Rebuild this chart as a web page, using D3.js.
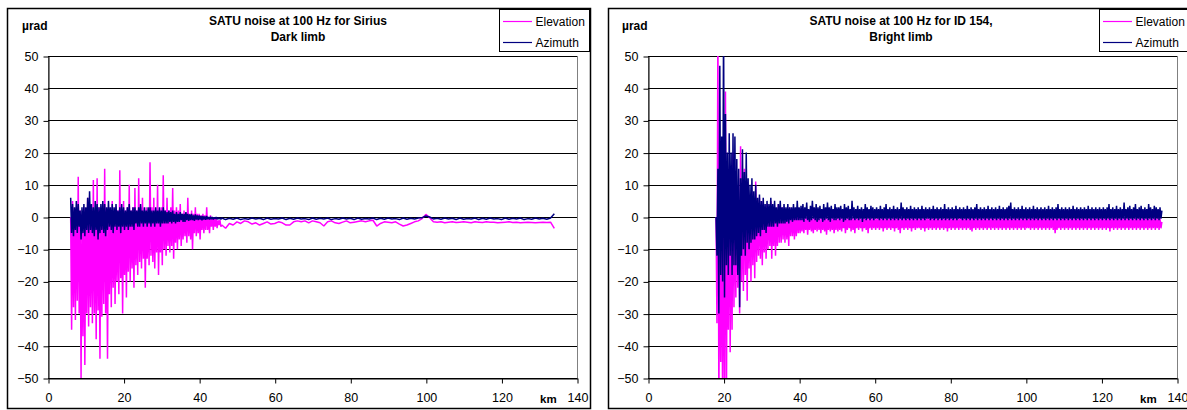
<!DOCTYPE html>
<html>
<head>
<meta charset="utf-8">
<script src="https://cdn.jsdelivr.net/npm/d3@7"></script>
<style>
  body { margin: 0; background: #fff; }
  svg text { font-family: Arial, "Liberation Sans", sans-serif; }
</style>
</head>
<body>
<svg id="chart" width="1187" height="410"></svg>
<script>
// axis ticks
const kmTicks = [0, 20, 40, 60, 80, 100, 120, 140];
const uradTicks = [-50, -40, -30, -20, -10, 0, 10, 20, 30, 40, 50];
const seriesNames = ['Elevation', 'Azimuth'];

// Sirius, dark limb: every 0.25 km from 6 km, then every 1 km from 46 km
const siriusNoisyStart = 6, siriusNoisyStep = 0.25;
const siriusQuietStart = 46, siriusQuietStep = 1;

const siriusElevNoisy = [
  0, -35, 5, -28, 2, -32, 3, -26, 12.5, -30, 2, -50, 1, -37, 3, -46, 2, -30, 6, -34,
  2, -28, 3, -33, 11.5, -30, 2, -38, 12, -29, 3, -44, 2, -31, 4, -27, 15, -30, 2, -44,
  3, -24, 2, -28, 5, -22, 2, -27, 3, -20, 2, -24, 14.5, -19, 2, -30, 5, -18, 2, -25,
  3, -17, 10, -20, 2, -16, 3, -22, 9, -15, 2, -18, 12, -14, 3, -16, 6, -13, 2, -22,
  3, -13, 2, -15, 17, -12, 3, -14, 6, -16, 2, -11, 10, -18, 2, -11, 3, -15, 13, -10,
  2, -12, 6, -9, 2, -11, 3, -9, 9, -13, 2, -8, 3, -10, 2, -7, 4, -9, 1, -7,
  2, -6, 1, -8, 6, -6, 1, -7, 2, -10, 1, -5, 3, -6, 1, -5, 1, -7, 0.5, -4,
  1, -5, 0.5, -4, 3, -4, 0, -5, 0.5, -3, 0, -4, 0, -3, -0.5, -3.5, -1, -2.5, -1, -3
];
const siriusElevQuiet = [
  -2.5, -3.5, -2, -2.5, -1.5, -2, -1.2, -1.5, -2.2, -1.8,
  -2.5, -2, -1.5, -2.2, -2, -1.5, -1.8, -2.5, -2.5, -1.5,
  -1.2, -1.5, -1.2, -1.8, -1.2, -1.5, -1.8, -2.8, -1.5, -1.2,
  -1.8, -2, -1.6, -1.2, -1.8, -1.6, -1.4, -1.2, -1.5, -1.2,
  -1.0, -2.8, -2, -1.5, -1.6, -1.8, -1.5, -2.2, -2.8, -2.5,
  -2, -1.5, -1.2, -0.5, 0.8, -0.2, -1.5, -1.6, -1.5, -1.8,
  -1.6, -1.5, -1.7, -1.6, -1.5, -1.6, -1.8, -1.5, -1.6, -1.7,
  -1.5, -1.6, -1.6, -1.8, -1.7, -1.6, -1.5, -1.7, -1.6, -1.8,
  -1.7, -1.6, -1.7, -1.8, -1.7, -1.6, -1.7, -1.6, -3.5
];
const siriusAzNoisy = [
  6, -5, 4, -6, 3, -4, 5, -5, 4, -3, 2, -7, 3, -5, 4, -6, 3, -4, 6, -5,
  8, -4, 4, -5, 3, -6, 5, -4, 4, -7, 3, -5, 4, -4, 5, -5, 4, -6, 3, -4,
  5, -3, 3, -4, 4, -5, 3, -3, 4, -4, 2, -3, 3, -5, 4, -3, 3, -4, 2, -3,
  3, -4, 4, -3, 2, -3, 3, -4, 3, -2, 2, -3, 3, -3, 4, -2, 2, -3, 3, -2,
  2, -3, 3, -2, 3, -3, 2, -2, 2, -3, 3, -2, 2, -2, 3, -3, 2, -2, 3, -2,
  2, -2, 1.5, -2, 2, -1.5, 1.5, -2, 2, -1.5, 1, -2, 1.5, -1.5, 1, -1.5, 1.5, -1, 1, -1.5,
  1, -1.5, 1.5, -1, 1, -1.2, 0.8, -1, 1, -1, 0.5, -1.2, 0.8, -0.8, 0.5, -1, 0.5, -0.8, 0.3, -1,
  0.3, -0.8, 0.2, -0.9, 0.3, -0.7, 0, -0.8, 0.1, -0.7, 0, -0.8, -0.1, -0.6, 0, -0.7, -0.2, -0.6, -0.3, -0.7
];
const siriusAzQuiet = [
  -0.3, -0.8, -0.4, -0.7, -0.3, -0.8, -0.5, -0.7, -0.3, -0.6,
  -0.4, -0.8, -0.3, -0.7, -0.5, -0.6, -0.3, -0.8, -0.4, -0.7,
  -0.3, -0.6, -0.5, -0.8, -0.3, -0.7, -0.4, -0.6, -0.3, -0.8,
  -0.5, -0.7, -0.3, -0.6, -0.4, -0.8, -0.3, -0.7, -0.5, -0.6,
  -0.3, -0.8, -0.4, -0.7, -0.3, -0.6, -0.5, -0.8, -0.3, -0.7,
  -0.4, -0.6, -0.3, -0.2, 0.3, 0, -0.6, -0.4, -0.7, -0.3,
  -0.6, -0.4, -0.8, -0.3, -0.7, -0.5, -0.6, -0.3, -0.8, -0.4,
  -0.7, -0.3, -0.6, -0.5, -0.8, -0.3, -0.7, -0.4, -0.6, -0.3,
  -0.8, -0.5, -0.7, -0.3, -0.6, -0.4, -0.7, -0.3, 1
];

// ID 154, bright limb: every 0.25 km from 18 km
const id154NoisyStart = 18, id154QuietStart = 40.5, id154Step = 0.25;

const id154ElevNoisy = [
  0, -33, 60, -60, 5, -45, 10, -60, 3, -50, 39, -60, 8, -35, 15, -42, 5, -35, 20, -28,
  6, -25, 10, -22, 4, -30, 22, -20, 6, -23, 15, -18, 5, -26, 10, -16, 4, -20, 8, -15,
  5, -19, 11, -14, 3, -12, 6, -13, 4, -15, 5, -11, 3, -13, 4, -10, 3, -9, 5, -13,
  2, -9, 3, -12, 2, -9, 4, -8, 2, -8, 3, -7, 2, -8, 2, -7, 1.5, -9, 3, -6,
  1, -6, 2, -7, 1, -6, 1.5, -5, 0.5, -5
];
const id154ElevQuiet = [
  -0.5, -4.5, 0, -5, -0.5, -4, 0, -5.5, -0.5, -4, 0, -4.5, -0.5, -5, 0, -4, -0.5, -4.5, 0, -4,
  -0.5, -5, 0, -4, -0.5, -4.5, 0, -5.5, -0.5, -4, 0, -4.5, -0.5, -4, 0, -5, -0.5, -4, 0, -4.5,
  -0.5, -4, 0, -4.5, -0.5, -3.5, 0, -5, -0.5, -4, 0, -3.5, -0.5, -4.5, 0, -4, -0.5, -5, 0, -3.5,
  -0.5, -4, 0, -3.5, -0.5, -4.5, 0, -3.5, -0.5, -4, 0, -5, -0.5, -3.5, 0, -4, -0.5, -3.5, 0, -4,
  -0.5, -3.5, 0, -4, -0.5, -3.5, 0, -4.5, -0.5, -3.5, 0, -4, -0.5, -3.5, 0, -4, -0.5, -3.5, 0, -4.5,
  -0.5, -3.5, 0, -4, -0.5, -5, 0, -3.5, -0.5, -4, 0, -3.5, -0.5, -4, 0, -3.5, -0.5, -4.5, 0, -3.5,
  -0.5, -4, 0, -3.5, -0.5, -3.5, 0, -4, -0.5, -3.5, 0, -4.5, -0.5, -3.5, 0, -4, -0.5, -3.5, 0, -4,
  -0.5, -3.5, 0, -4, -0.5, -3.5, 0, -4, -0.5, -3.5, 0, -4, -0.5, -3.5, 0, -4.5, -0.5, -3.5, 0, -4,
  -0.5, -3.5, 0, -4, -0.5, -3.5, 0, -4, -0.5, -3.5, 0, -4, -0.5, -3.5, 0, -4, -0.5, -3.5, 0, -4,
  -0.5, -4.5, 0, -3.5, -0.5, -4, 0, -3.5, -0.5, -4, 0, -3.5, -0.5, -4, 0, -3.5, -0.5, -4, 0, -3.5,
  -0.5, -4, 0, -3.5, -0.5, -4, 0, -3.5, -0.5, -4, 0, -3.5, -0.5, -4, 0, -3.5, -0.5, -4, 0, -3.5,
  -0.5, -4, 0, -3.5, -0.5, -4, 0, -3.5, -0.5, -4, 0, -3.5, -0.5, -4, 0, -3.5, -0.5, -4, 0, -3.5,
  -0.5, -3.5, 0, -4, -0.5, -3.5, 0, -4, -0.5, -3.5, 0, -4, -0.5, -3.5, 0, -4, -0.5, -3.5, 0, -4,
  -0.5, -3.5, 0, -4, -0.5, -3.5, 0, -4, -0.5, -5, 0, -4, -0.5, -3.5, 0, -4, -0.5, -3.5, 0, -4,
  -0.5, -3.5, 0, -4, -0.5, -3.5, 0, -4, -0.5, -3.5, 0, -4, -0.5, -3.5, 0, -4, -0.5, -3.5, 0, -4,
  -0.5, -3.5, 0, -4, -0.5, -3.5, 0, -4, -0.5, -3.5, 0, -4, -0.5, -3.5, 0, -4, -0.5, -3.5, 0, -4,
  -0.5, -3.5, 0, -4, -0.5, -3.5, 0, -4.5, -0.5, -3.5, 0, -4, -0.5, -3.5, 0, -4, -0.5, -3.5, 0, -4,
  -0.5, -3.5, 0, -4, -0.5, -3.5, 0, -4, -0.5, -3.5, 0, -4, -0.5, -3.5, 0, -4, -0.5, -3.5, 0, -4,
  -0.5, -3.5, 0, -4, -0.5, -3.5, 0, -4, -0.5, -3.5, 0, -4, -0.5, -3.5, 0, -4, -0.5, -3.5, 0, -4,
  -0.5, -3.5, -1.5
];
const id154AzNoisy = [
  0, -12, 15, -30, 47, -18, 25, -20, 60, -25, 32, -15, 20, -18, 26, -12, 20, -18, 26, -15,
  25, -15, 18, -18, 15, -28, 12, -12, 21, -10, 14, -12, 20, -8, 12, -10, 10, -8, 12, -7,
  8, -7, 10, -6, 6, -5, 7, -6, 5, -4, 6, -4, 4, -5, 5, -3, 4, -3, 6, -3,
  4, -3, 5, -2, 3, -3, 4, -2, 5, -2, 3, -2, 4, -2, 3, -1.5, 4, -2, 3, -1,
  3, -1.5, 4, -1, 3, -1, 5, -1, 3, -1
];
const id154AzQuiet = [
  3.5, -1, 4, -1.5, 3, -0.5, 4.5, -1, 2.5, -1.5, 3.5, -1, 5, -0.5, 3, -1, 4, -1.5, 3, -1,
  3.5, -0.5, 2.5, -1.5, 4, -1, 3, -0.5, 4.5, -1, 3, -1.5, 3.5, -0.5, 2.5, -1, 4, -1, 3, -0.5,
  3, -1, 3.5, -0.5, 2.5, -1.5, 4, -1, 3, -0.5, 3.5, -1, 2.5, -1, 5, -0.5, 3, -1, 2.5, -0.5,
  3.5, -1, 2.5, -0.5, 3, -1.5, 2.5, -0.5, 4, -1, 3, -0.5, 2.5, -1, 3.5, -0.5, 3, -1, 2.5, -0.5,
  3, -0.5, 2.5, -1, 3.5, -0.5, 2.5, -1, 3, -0.5, 4, -1, 2.5, -0.5, 3, -1, 2.5, -0.5, 3.5, -1,
  2.5, -0.5, 3, -1, 2.5, -0.5, 4.5, -1, 3, -0.5, 2.5, -1, 3, -0.5, 2.5, -1, 3.5, -0.5, 2.5, -1,
  3, -0.5, 2.5, -1, 3, -0.5, 2.5, -1, 3.5, -0.5, 2.5, -1, 3, -0.5, 2.5, -0.5, 3, -1, 2.5, -0.5,
  3.5, -1, 2.5, -0.5, 3, -1, 2.5, -0.5, 3, -1, 2.5, -0.5, 4, -1, 2.5, -0.5, 3, -1, 2.5, -0.5,
  3, -1, 2.5, -0.5, 3.5, -1, 2.5, -0.5, 3, -0.5, 2.5, -1, 3, -0.5, 2.5, -1, 3.5, -0.5, 2.5, -1,
  3, -0.5, 2.5, -1, 3, -0.5, 4, -1, 2.5, -0.5, 3, -1, 2.5, -0.5, 3, -1, 2.5, -0.5, 3.5, -1,
  2.5, -0.5, 3, -1, 2.5, -0.5, 3, -1, 2.5, -0.5, 3.5, -1, 2.5, -0.5, 3, -1, 2.5, -0.5, 3, -1,
  3.5, -0.5, 4.5, -1, 2.5, -0.5, 3, -1, 2.5, -0.5, 3, -1, 2.5, -0.5, 3.5, -1, 2.5, -0.5, 3, -1,
  2.5, -0.5, 3, -1, 2.5, -0.5, 3.5, -1, 2.5, -0.5, 3, -1, 2.5, -0.5, 3, -1, 2.5, -0.5, 3, -1,
  2.5, -0.5, 3.5, -1, 2.5, -0.5, 3, -1, 2.5, -0.5, 3, -1, 4, -0.5, 2.5, -1, 3, -0.5, 2.5, -1,
  3, -0.5, 2.5, -1, 3, -0.5, 2.5, -1, 3.5, -0.5, 2.5, -1, 3, -0.5, 2.5, -1, 3, -0.5, 2.5, -1,
  3, -0.5, 2.5, -1, 3.5, -0.5, 2.5, -1, 3, -0.5, 2.5, -1, 3, -0.5, 2.5, -1, 3, -0.5, 2.5, -1,
  3, -0.5, 2.5, -1, 3, -0.5, 4, -1, 2.5, -0.5, 3, -1, 2.5, -0.5, 3.5, -1, 2.5, -0.5, 3, -1,
  2.5, -0.5, 4.5, -1, 2.5, -0.5, 3, -1, 3.5, -0.5, 2.5, -1, 3, -0.5, 4, -1, 2.5, -0.5, 3, -1,
  3.5, -0.5, 2.5, -1, 3, -0.5, 2.5, -1, 4, -0.5, 3, -1, 2.5, -0.5, 3.5, -1, 3, -0.5, 2.5, -1,
  3, -0.5, 2
];

const colors = { Elevation: '#ff00ff', Azimuth: '#000080' };

// turn sampled segments into [km, value] pairs
function samples(segs) {
  const pts = [];
  segs.forEach(([start, step, vals]) => {
    vals.forEach((v, i) => pts.push([start + i * step, v]));
  });
  return pts;
}

const panels = [
  {
    id: 'sirius',
    frame: { x: 7.5, y: 8.5, w: 583, h: 400 },
    plot: { x: 48, y: 56, w: 529, h: 322 },
    title: ['SATU noise at 100 Hz for Sirius', 'Dark limb'],
    titleX: 298,
    legend: { x: 499.5, y: 9.5, w: 90, h: 42 },
    data: {
      Elevation: samples([[siriusNoisyStart, siriusNoisyStep, siriusElevNoisy], [siriusQuietStart, siriusQuietStep, siriusElevQuiet]]),
      Azimuth: samples([[siriusNoisyStart, siriusNoisyStep, siriusAzNoisy], [siriusQuietStart, siriusQuietStep, siriusAzQuiet]])
    }
  },
  {
    id: 'id154',
    frame: { x: 608.5, y: 8.5, w: 600, h: 400 },
    plot: { x: 648, y: 56, w: 529, h: 322 },
    title: ['SATU noise at 100 Hz for ID 154,', 'Bright limb'],
    titleX: 901,
    legend: { x: 1099.5, y: 9.5, w: 100, h: 42 },
    data: {
      Elevation: samples([[id154NoisyStart, id154Step, id154ElevNoisy], [id154QuietStart, id154Step, id154ElevQuiet]]),
      Azimuth: samples([[id154NoisyStart, id154Step, id154AzNoisy], [id154QuietStart, id154Step, id154AzQuiet]])
    }
  }
];

const svg = d3.select('#chart');

panels.forEach(p => {
  const g = svg.append('g');
  const x = d3.scaleLinear().domain([0, 140]).range([p.plot.x, p.plot.x + p.plot.w]);
  const y = d3.scaleLinear().domain([-50, 50]).range([p.plot.y + p.plot.h, p.plot.y]);

  // outer chart frame
  g.append('rect')
    .attr('x', p.frame.x).attr('y', p.frame.y)
    .attr('width', p.frame.w).attr('height', p.frame.h)
    .attr('fill', '#fff').attr('stroke', '#000').attr('stroke-width', 1.5);

  // plot area border (grey)
  g.append('rect')
    .attr('x', p.plot.x + 0.5).attr('y', p.plot.y + 0.5)
    .attr('width', p.plot.w).attr('height', p.plot.h)
    .attr('fill', 'none').attr('stroke', '#808080');

  // horizontal gridlines
  g.append('g').selectAll('line')
    .data(uradTicks)
    .join('line')
    .attr('x1', p.plot.x).attr('x2', p.plot.x + p.plot.w)
    .attr('y1', d => Math.round(y(d)) + 0.5).attr('y2', d => Math.round(y(d)) + 0.5)
    .attr('stroke', '#000').attr('stroke-width', 1);

  // clip for series
  g.append('clipPath').attr('id', 'clip-' + p.id)
    .append('rect')
    .attr('x', p.plot.x).attr('y', p.plot.y)
    .attr('width', p.plot.w).attr('height', p.plot.h);

  const line = d3.line().x(d => x(d[0])).y(d => y(d[1]));
  const series = g.append('g').attr('clip-path', `url(#clip-${p.id})`);
  seriesNames.forEach(name => {
    series.append('path')
      .datum(p.data[name])
      .attr('d', line)
      .attr('fill', 'none')
      .attr('stroke', colors[name])
      .attr('stroke-width', 1.5)
      .attr('stroke-linejoin', 'bevel');
  });

  // axes
  const yAxis = g.append('g')
    .attr('transform', `translate(${p.plot.x + 0.5},0.5)`)
    .call(d3.axisLeft(y).tickValues(uradTicks).tickSize(5).tickPadding(5).tickSizeOuter(0));
  const xAxis = g.append('g')
    .attr('transform', `translate(0.5,${p.plot.y + p.plot.h + 0.5})`)
    .call(d3.axisBottom(x).tickValues(kmTicks).tickSize(5).tickPadding(10).tickSizeOuter(0));
  [yAxis, xAxis].forEach(a => {
    a.select('.domain').attr('stroke', '#000');
    a.selectAll('.tick line').attr('stroke', '#000');
    a.selectAll('.tick text')
      .attr('fill', '#000')
      .style('font-size', '12.5px')
      .style('font-family', 'Arial, "Liberation Sans", sans-serif');
  });

  // unit labels
  g.append('text')
    .attr('x', p.plot.x - 26).attr('y', 30)
    .style('font-size', '12px').style('font-weight', 'bold')
    .text('µrad');
  g.append('text')
    .attr('x', p.plot.x + p.plot.w - 37).attr('y', 403)
    .style('font-size', '11.5px').style('font-weight', 'bold')
    .text('km');

  // title
  g.append('text')
    .attr('x', p.titleX).attr('text-anchor', 'middle')
    .style('font-size', '12px').style('font-weight', 'bold')
    .selectAll('tspan')
    .data(p.title)
    .join('tspan')
    .attr('x', p.titleX)
    .attr('y', (d, i) => 25 + i * 16)
    .text(d => d);

  // legend
  const lg = g.append('g');
  lg.append('rect')
    .attr('x', p.legend.x).attr('y', p.legend.y)
    .attr('width', p.legend.w).attr('height', p.legend.h)
    .attr('fill', '#fff').attr('stroke', '#000');
  seriesNames.forEach((name, i) => {
    const ly = p.legend.y + 12 + i * 21;
    lg.append('line')
      .attr('x1', p.legend.x + 3.5).attr('x2', p.legend.x + 32.5)
      .attr('y1', ly).attr('y2', ly)
      .attr('stroke', colors[name]).attr('stroke-width', 1.2);
    lg.append('text')
      .attr('x', p.legend.x + 36).attr('y', ly + 4)
      .style('font-size', '12px')
      .text(name);
  });
});
</script>
</body>
</html>
